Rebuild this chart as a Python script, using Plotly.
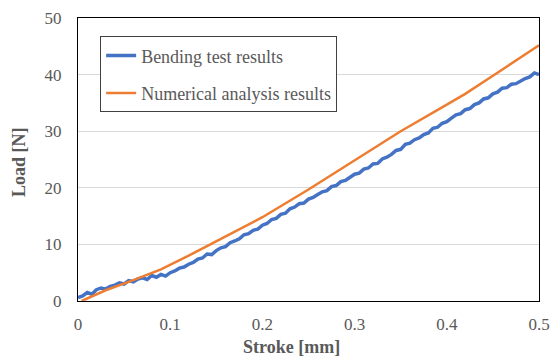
import plotly.graph_objects as go

# Bending test results (measured, noisy)
stroke_test = [
    0.000, 0.005, 0.010, 0.015, 0.020, 0.025, 0.030, 0.035, 0.040, 0.045,
    0.050, 0.055, 0.060, 0.065, 0.070, 0.075, 0.080, 0.085, 0.090, 0.095,
    0.100, 0.105, 0.110, 0.115, 0.120, 0.125, 0.130, 0.135, 0.140, 0.145,
    0.150, 0.155, 0.160, 0.165, 0.170, 0.175, 0.180, 0.185, 0.190, 0.195,
    0.200, 0.205, 0.210, 0.215, 0.220, 0.225, 0.230, 0.235, 0.240, 0.245,
    0.250, 0.255, 0.260, 0.265, 0.270, 0.275, 0.280, 0.285, 0.290, 0.295,
    0.300, 0.305, 0.310, 0.315, 0.320, 0.325, 0.330, 0.335, 0.340, 0.345,
    0.350, 0.355, 0.360, 0.365, 0.370, 0.375, 0.380, 0.385, 0.390, 0.395,
    0.400, 0.405, 0.410, 0.415, 0.420, 0.425, 0.430, 0.435, 0.440, 0.445,
    0.450, 0.455, 0.460, 0.465, 0.470, 0.475, 0.480, 0.485, 0.490, 0.495,
    0.500,
]
load_test = [
    0.6, 0.9, 1.5, 1.2, 2.0, 2.3, 2.1, 2.6, 2.8, 3.2,
    3.0, 3.6, 3.4, 3.9, 4.1, 3.8, 4.5, 4.2, 4.7, 4.4,
    5.0, 5.3, 5.8, 6.0, 6.5, 6.8, 7.4, 7.6, 8.3, 8.2,
    8.9, 9.4, 9.6, 10.3, 10.6, 11.0, 11.7, 11.9, 12.5, 12.7,
    13.4, 13.7, 14.4, 14.6, 15.3, 15.5, 16.3, 16.6, 17.2, 17.3,
    18.0, 18.3, 18.8, 19.3, 19.5, 20.2, 20.4, 21.1, 21.3, 21.9,
    22.4, 22.6, 23.3, 23.5, 24.2, 24.3, 25.1, 25.4, 25.9, 26.6,
    26.8, 27.7, 27.9, 28.5, 28.8, 29.4, 29.7, 30.5, 30.7, 31.4,
    31.7, 32.3, 32.9, 33.1, 33.8, 34.0, 34.7, 35.0, 35.7, 35.9,
    36.6, 36.9, 37.6, 37.7, 38.3, 38.4, 38.9, 39.3, 39.6, 40.3,
    40.0,
]

# Numerical analysis results
stroke_num = [0.004, 0.03, 0.06, 0.09, 0.12, 0.15, 0.20, 0.25, 0.30, 0.35, 0.40, 0.42, 0.45, 0.50]
load_num = [0.0, 1.9, 3.7, 5.6, 8.0, 10.6, 14.8, 19.7, 24.8, 30.0, 34.7, 36.6, 39.8, 45.2]

x_ticks = [0, 0.1, 0.2, 0.3, 0.4, 0.5]
x_ticklabels = ["0", "0.1", "0.2", "0.3", "0.4", "0.5"]
y_ticks = [0, 10, 20, 30, 40, 50]

names = ["Bending test results", "Numerical analysis results"]
x_title = "Stroke [mm]"
y_title = "Load [N]"

SERIF = "Liberation Serif"
GRAY = "#595959"

fig = go.Figure()
fig.add_trace(go.Scatter(
    x=stroke_test, y=load_test, mode="lines", name=names[0],
    line=dict(color="#4472C4", width=3.5), legendgroup="a",
))
fig.add_trace(go.Scatter(
    x=stroke_num, y=load_num, mode="lines", name=names[1],
    line=dict(color="#ED7D31", width=2.5), legendgroup="b",
))

fig.update_layout(
    width=551, height=359,
    margin=dict(l=78, r=12, t=18, b=58),
    paper_bgcolor="white", plot_bgcolor="white",
    font=dict(family=SERIF, size=17, color=GRAY),
    showlegend=True,
    legend=dict(
        x=0.048, y=0.935, xanchor="left", yanchor="top",
        bgcolor="white", bordercolor="#404040", borderwidth=1,
        font=dict(family=SERIF, size=18, color=GRAY),
        tracegroupgap=11,
    ),
    xaxis=dict(
        range=[0, 0.5], tickvals=x_ticks, ticktext=x_ticklabels,
        showgrid=False, zeroline=False, automargin=False,
        showline=True, mirror=True, linecolor="black", linewidth=1.3,
        ticks="", ticklabelstandoff=7,
        tickfont=dict(family=SERIF, size=17, color=GRAY),
    ),
    yaxis=dict(
        range=[0, 50], tickvals=y_ticks, automargin=False,
        showgrid=True, gridcolor="#D9D9D9", gridwidth=1, zeroline=False,
        showline=True, mirror=True, linecolor="black", linewidth=1.3,
        ticks="", ticklabelstandoff=12,
        tickfont=dict(family=SERIF, size=17, color=GRAY),
    ),
    annotations=[
        dict(text="<b>" + x_title + "</b>", xref="paper", yref="paper",
             x=0.464, y=-0.1625, xanchor="center", yanchor="middle",
             showarrow=False, font=dict(family=SERIF, size=18, color=GRAY)),
        dict(text="<b>" + y_title + "</b>", xref="paper", yref="paper",
             x=-0.128, y=0.491, xanchor="center", yanchor="middle",
             textangle=-90, showarrow=False,
             font=dict(family=SERIF, size=18, color=GRAY)),
    ],
)

fig.write_html("out.html")
